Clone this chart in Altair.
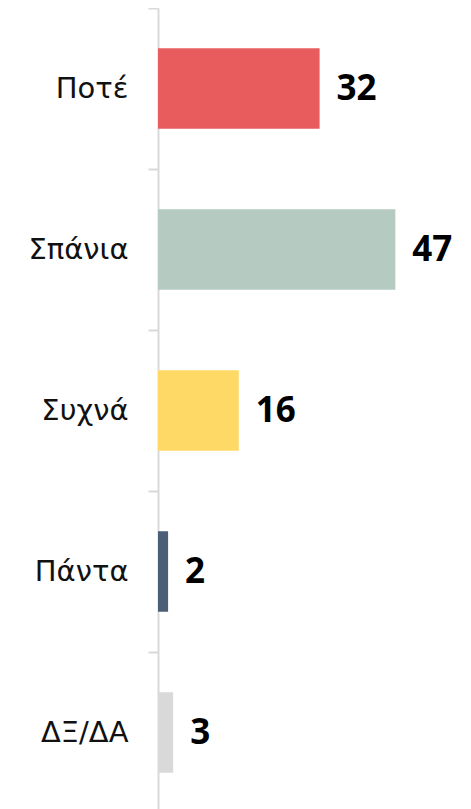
import altair as alt
import pandas as pd

categories = ["Ποτέ", "Σπάνια", "Συχνά", "Πάντα", "ΔΞ/ΔΑ"]
values = [32, 47, 16, 2, 3]
colors = ["#E85C5E", "#B5CBC2", "#FFD966", "#4A5F77", "#D9D9D9"]

df = pd.DataFrame({"cat": categories, "val": values, "color": colors})

y_enc = alt.Y(
    "cat:N",
    sort=categories,
    title=None,
    scale=alt.Scale(paddingInner=0, paddingOuter=0),
    axis=alt.Axis(
        tickBand="extent",
        domainColor="#D9D9D9",
        domainWidth=2,
        tickColor="#D9D9D9",
        tickWidth=2,
        tickSize=10,
        labelPadding=20,
        labelFont="DejaVu Sans",
        labelFontSize=29,
        labelColor="#111111",
        grid=False,
    ),
)
x_enc = alt.X("val:Q", title=None, axis=None, scale=alt.Scale(domain=[0, 60], nice=False))

base = alt.Chart(df)

bars = base.mark_bar(height={"band": 0.5}).encode(
    x=x_enc,
    y=y_enc,
    color=alt.Color("color:N", scale=None, legend=None),
)

labels = base.mark_text(
    align="left", baseline="middle", dx=17, font="Noto Sans", fontWeight="bold", fontSize=35, color="#000000"
).encode(x=x_enc, y=alt.Y("cat:N", sort=categories), text="val:Q")

chart = (
    alt.layer(bars, labels)
    .properties(
        width=303,
        height=805,
        autosize=alt.AutoSizeParams(type="none"),
        padding={"left": 150, "top": 0, "right": 0, "bottom": 0},
    )
    .configure_view(stroke=None)
)

chart.save("out.html", embed_options={"renderer": "svg", "actions": False})
